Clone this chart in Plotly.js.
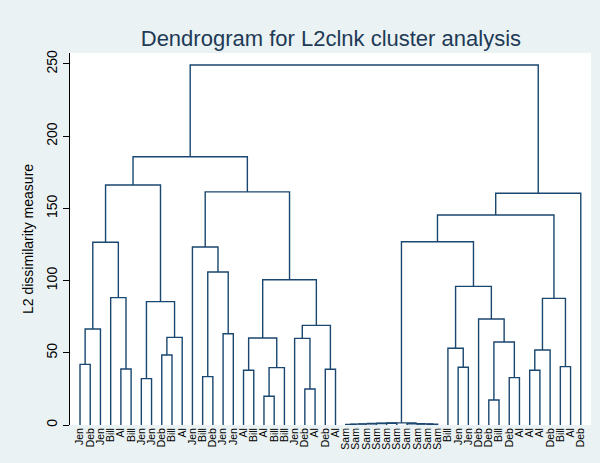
<!DOCTYPE html>
<html>
<head>
<meta charset="utf-8">
<script src="https://cdn.plot.ly/plotly-3.0.1.min.js"></script>
<style>html,body{margin:0;padding:0;background:#EAF2F3;}#chart{width:600px;height:463px;}</style>
</head>
<body>
<div id="chart"></div>
<script>
// Leaf labels in dendrogram order
const leafLabels = ["Jen","Deb","Jen","Bill","Al","Bill","Jen","Jen","Deb","Bill","Al","Jen","Bill","Deb","Jen","Jen","Al","Bill","Al","Bill","Bill","Jen","Deb","Al","Deb","Al",
  "Sam","Sam","Sam","Sam","Sam","Sam","Sam","Sam","Sam","Sam",
  "Bill","Jen","Jen","Deb","Deb","Bill","Deb","Al","Al","Al","Deb","Bill","Al","Deb"];
// Merges: leaves are 0..49, merge k creates cluster 50+k
const mergeA = [0,50,4,3,51,6,8,56,55,54,12,14,60,11,16,18,65,64,22,21,24,69,67,63,59,
  26,75,76,77,78,34,33,32,79,
  37,36,40,42,86,39,85,83,44,92,47,93,91,96,74];
const mergeB = [1,2,5,52,53,7,9,10,57,58,13,15,61,62,17,19,20,66,23,68,25,70,71,72,73,
  27,28,29,30,31,35,80,81,82,
  38,84,41,43,87,88,89,90,45,46,48,94,95,49,97];
const mergeH = [42.0,66.5,38.8,88.2,126.5,32.1,48.5,60.7,85.4,166.2,33.5,63.2,106.0,123.3,37.9,19.9,39.7,60.2,24.9,60.0,38.6,69.0,100.6,161.4,185.8,
  0.4,0.6,0.8,1.0,1.2,0.5,0.7,0.9,1.5,
  40.0,53.1,17.3,32.8,57.5,73.4,96.0,126.9,37.9,51.9,40.4,87.7,145.4,160.5,249.3];

const nLeaf = leafLabels.length;
const pos = [], ht = [];
for (let i = 0; i < nLeaf; i++) { pos.push(i); ht.push(0); }
const xs = [], ys = [];
for (let k = 0; k < mergeA.length; k++) {
  const a = mergeA[k], b = mergeB[k], h = mergeH[k];
  xs.push(pos[a], pos[a], pos[b], pos[b], null);
  ys.push(ht[a], h, h, ht[b], null);
  pos.push((pos[a] + pos[b]) / 2);
  ht.push(h);
}
const tickIdx = leafLabels.map((_, i) => i);

const trace = {
  x: xs, y: ys, type: 'scatter', mode: 'lines',
  line: {color: '#1A476F', width: 1.4},
  hoverinfo: 'skip', showlegend: false, connectgaps: false
};
const layout = {
  width: 600, height: 463,
  paper_bgcolor: '#EAF2F3', plot_bgcolor: '#FFFFFF',
  margin: {l: 70, r: 9, t: 53, b: 38},
  font: {family: 'Liberation Sans, Arial, sans-serif', color: '#000000'},
  title: {text: 'Dendrogram for L2clnk cluster analysis', x: 0.5515, xanchor: 'center', y: 0.918, yanchor: 'middle',
    font: {size: 22, color: '#1E3A56', family: 'Liberation Sans, Arial, sans-serif'}},
  xaxis: {range: [-0.98, 50.0], tickvals: tickIdx, ticktext: leafLabels, tickangle: -90,
    showgrid: false, zeroline: false, showline: false, ticks: '', ticklen: 0,
    tickfont: {size: 10.5, color: '#000000'}, fixedrange: true},
  yaxis: {range: [0, 257.6], tickvals: [0,50,100,150,200,250], tickangle: -90,
    showgrid: false, zeroline: false, showline: true, linecolor: '#000000', linewidth: 1,
    ticks: 'outside', ticklen: 6, tickcolor: '#000000', tickfont: {size: 14, color: '#000000'},
    title: {text: 'L2 dissimilarity measure', font: {size: 14, color: '#000000'}, standoff: 7}}
};
Plotly.newPlot('chart', [trace], layout, {displayModeBar: false, staticPlot: true});
</script>
</body>
</html>
